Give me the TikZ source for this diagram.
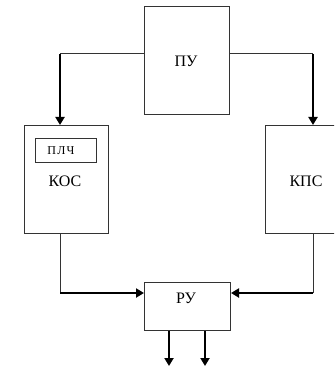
\documentclass[tikz,border=0pt]{standalone}
\usepackage{fontspec}
\setmainfont{Liberation Serif}
\usetikzlibrary{arrows.meta}
\tikzset{
  blk/.style={draw=black!80, line width=1pt, inner sep=0pt, anchor=north west},
  lbl/.style={font=\fontsize{16}{19}\selectfont, inner sep=0pt},
  small/.style={font=\fontsize{12}{14}\selectfont\addfontfeature{LetterSpace=10}, inner sep=0pt},
  thin/.style={draw=black!80, line width=1pt},
  thick/.style={draw=black, line width=2pt, -{Triangle[length=8pt,width=9pt]}},
}
\begin{document}
\begin{tikzpicture}[x=1pt,y=-1pt]
\useasboundingbox (0,0) rectangle (334,366);
\clip (0,0) rectangle (334,366);
% blocks
\node[blk, minimum width=85pt, minimum height=108pt] (pu) at (144,6) {};
\node[blk, minimum width=84pt, minimum height=108pt] (kos) at (24,125) {};
\node[blk, minimum width=61pt, minimum height=24pt] (plch) at (35,138) {};
\node[blk, minimum width=75pt, minimum height=108pt] (kps) at (265,125) {};
\node[blk, minimum width=86pt, minimum height=48pt] (ru) at (144,282) {};
% texts
\node[lbl] (tpu) at (186,61) {ПУ};
\node[small] (tplch) at (61,151) {ПЛЧ};
\node[lbl] (tkos) at (65,181) {КОС};
\node[lbl] (tkps) at (306,181) {КПС};
\node[lbl] (tru) at (186,298) {РУ};
% corner points
\coordinate (c1) at (60,54);
\coordinate (c2) at (313,54);
\coordinate (c3) at (60,293);
\coordinate (c4) at (313,293);
\coordinate (o1) at (169,366);
\coordinate (o2) at (205,366);
% connectors
\draw[thin] (pu.west |- c1) -- (c1);
\draw[thick] (c1) -- (c1 |- kos.north);
\draw[thin] (pu.east |- c2) -- (c2);
\draw[thick] (c2) -- (c2 |- kps.north);
\draw[thin] (c1 |- kos.south) -- (c3);
\draw[thick] (c3) -- (ru.west |- c3);
\draw[thin] (c2 |- kps.south) -- (c4);
\draw[thick] (c4) -- (ru.east |- c4);
\draw[thick] (o1 |- ru.south) -- (o1);
\draw[thick] (o2 |- ru.south) -- (o2);
\end{tikzpicture}
\end{document}
